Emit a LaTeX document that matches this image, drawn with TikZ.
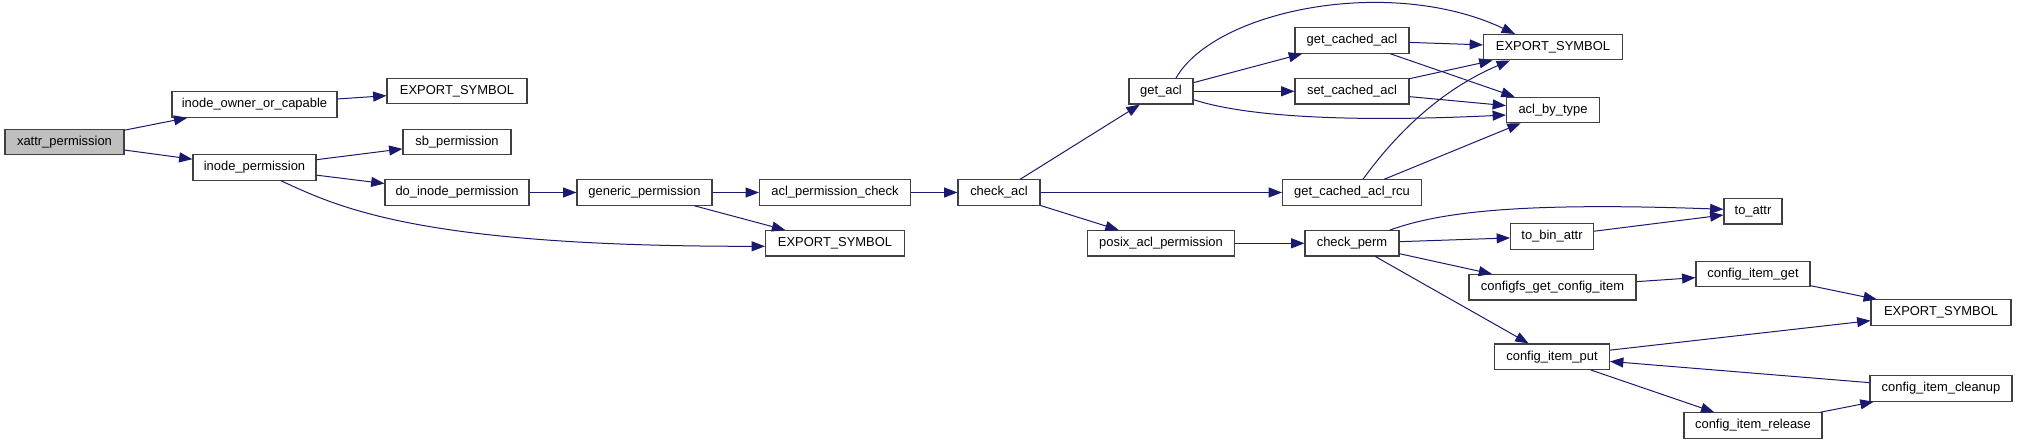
\documentclass[tikz,border=0pt]{standalone}
\usepackage{fontspec}
\setmainfont{Liberation Sans}
\usetikzlibrary{arrows.meta,calc}
\definecolor{edgec}{HTML}{191970}
\definecolor{boxc}{HTML}{404040}
\definecolor{rootc}{HTML}{BFBFBF}
\begin{document}
\begin{tikzpicture}[x=0.75pt,y=-0.75pt,
  fn/.style={draw=boxc,line width=0.8pt,fill=white,minimum height=19.1pt,inner sep=0pt,font=\fontsize{9.7pt}{11pt}\selectfont},
  root/.style={fn,fill=rootc},
  call/.style={draw=edgec,line width=0.75pt,-{Triangle[length=10pt,width=7.5pt]}}]
\useasboundingbox (0,0) rectangle (2017,445);
% nodes
\node[root,minimum width=89.25pt] (xp) at (64.5,142) {xattr\_permission};
\node[fn,minimum width=123.75pt] (ioc) at (254.5,104.5) {inode\_owner\_or\_capable};
\node[fn,minimum width=92.25pt] (ip) at (254.5,167.5) {inode\_permission};
\node[fn,minimum width=105pt] (e1) at (457,91) {EXPORT\_SYMBOL};
\node[fn,minimum width=81pt] (sb) at (457,142) {sb\_permission};
\node[fn,minimum width=108pt] (dip) at (457,192.5) {do\_inode\_permission};
\node[fn,minimum width=101.25pt] (gp) at (644.5,192.5) {generic\_permission};
\node[fn,minimum width=113.25pt] (apc) at (835,192.5) {acl\_permission\_check};
\node[fn,minimum width=104.25pt] (e2) at (835,243.3) {EXPORT\_SYMBOL};
\node[fn,minimum width=61.5pt] (ca) at (999,192.5) {check\_acl};
\node[fn,minimum width=48pt] (ga) at (1161,91.3) {get\_acl};
\node[fn,minimum width=110.25pt] (pap) at (1161,243.3) {posix\_acl\_permission};
\node[fn,minimum width=85.5pt] (gca) at (1352,40.5) {get\_cached\_acl};
\node[fn,minimum width=85.5pt] (sca) at (1352,91.3) {set\_cached\_acl};
\node[fn,minimum width=104.25pt] (rcu) at (1352,192.5) {get\_cached\_acl\_rcu};
\node[fn,minimum width=70.5pt] (cp) at (1352,243.3) {check\_perm};
\node[fn,minimum width=104.25pt] (e4) at (1553,47.2) {EXPORT\_SYMBOL};
\node[fn,minimum width=69.75pt] (abt) at (1553,110) {acl\_by\_type};
\node[fn,minimum width=62.25pt] (tba) at (1552,236.5) {to\_bin\_attr};
\node[fn,minimum width=125.25pt] (cgci) at (1552.5,287.3) {configfs\_get\_config\_item};
\node[fn,minimum width=86.25pt] (cip) at (1552,356.7) {config\_item\_put};
\node[fn,minimum width=43.5pt] (ta) at (1753,211.3) {to\_attr};
\node[fn,minimum width=85.5pt] (cig) at (1753,273.8) {config\_item\_get};
\node[fn,minimum width=103.5pt] (cir) at (1753,425.5) {config\_item\_release};
\node[fn,minimum width=105pt] (e3) at (1941,312.7) {EXPORT\_SYMBOL};
\node[fn,minimum width=106.5pt] (cic) at (1941,388.5) {config\_item\_cleanup};
% edges
\draw[call] (xp) -- (ioc);
\draw[call] (xp) -- (ip);
\draw[call] (ioc) -- (e1);
\draw[call] (ip) -- (sb);
\draw[call] (ip) -- (dip);
\draw[call] ($(ip.south)+(26.5,0)$) .. controls (340,208) and (420,246.5) .. ($(e2.west)+(0,3)$);
\draw[call] (dip) -- (gp);
\draw[call] (gp) -- (apc);
\draw[call] (gp) -- (e2);
\draw[call] (apc) -- (ca);
\draw[call] (ca) -- (ga);
\draw[call] (ca) -- (rcu);
\draw[call] (ca) -- (pap);
\draw[call] (ga) -- (gca);
\draw[call] (ga) -- (sca);
\draw[call] ($(ga.north)+(15,0)$) .. controls (1215,10) and (1390,-25) .. ($(e4.north west)+(32,0)$);
\draw[call] ($(ga.east)+(0,8.4)$) .. controls (1250,118) and (1360,122) .. ($(abt.west)+(0,5)$);
\draw[call] (gca) -- (e4);
\draw[call] (gca) -- (abt);
\draw[call] (sca) -- (e4);
\draw[call] (sca) -- (abt);
\draw[call] ($(rcu.north)+(11,0)$) .. controls (1395,135) and (1440,90) .. ($(e4.south west)+(27,0)$);
\draw[call] (rcu) -- (abt);
\draw[call] (pap) -- (cp);
\draw[call] ($(cp.north)+(38,0)$) .. controls (1440,212) and (1520,202) .. ($(ta.west)+(0,-2)$);
\draw[call] (cp) -- (tba);
\draw[call] (cp) -- (cgci);
\draw[call] (cp) -- (cip);
\draw[call] (tba) -- (ta);
\draw[call] (cgci) -- (cig);
\draw[call] (cig) -- (e3);
\draw[call] (cip) -- (e3);
\draw[call] (cic) -- (cip);
\draw[call] (cip) -- (cir);
\draw[call] (cir) -- (cic);
\end{tikzpicture}
\end{document}
